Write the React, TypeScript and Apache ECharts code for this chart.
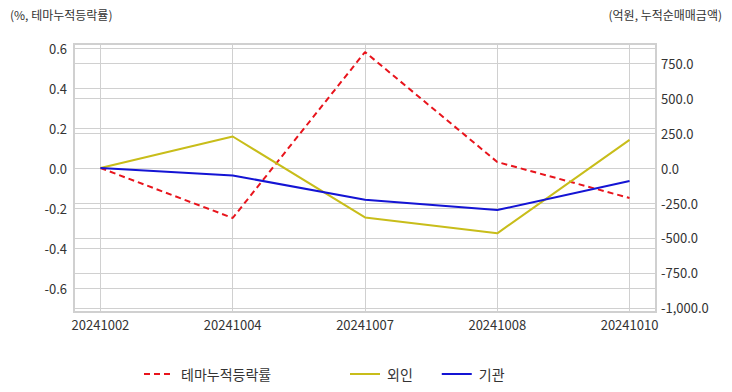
import React, { useEffect, useRef } from "react";
import * as echarts from "echarts";

const categories = ["20241002", "20241004", "20241007", "20241008", "20241010"];
const themeReturn = [0, -0.25, 0.58, 0.03, -0.15];
const foreignNet = [0, 226, -353, -467, 202];
const institutionNet = [0, -53, -226, -300, -93];
const leftTitle = "(%, 테마누적등락률)";
const rightTitle = "(억원, 누적순매매금액)";

const FONT = "'Noto Sans CJK KR', 'Noto Sans', sans-serif";

export default function App() {
  const ref = useRef<HTMLDivElement>(null);
  useEffect(() => {
    document.body.style.margin = "0";
    const chart = echarts.init(ref.current!, null, { renderer: "svg" });
    const toPts = (arr: number[]) => arr.map((v, i) => [i, v]);
    const legendCommon = {
      top: 362,
      itemWidth: 30,
      itemHeight: 14,
      itemStyle: { opacity: 0 },
      textStyle: { fontSize: 14, color: "#333", fontFamily: FONT, padding: [0, 0, 0, 2] },
    };
    chart.setOption({
      animation: false,
      textStyle: { fontFamily: FONT },
      grid: {
        left: 74,
        right: 76,
        top: 44,
        bottom: 80,
        show: true,
        borderColor: "#d0d0d0",
        borderWidth: 2,
      },
      graphic: [
        {
          type: "text",
          left: 10,
          top: 8,
          style: { text: leftTitle, fill: "#333", font: `12px ${FONT}` },
        },
        {
          type: "text",
          right: 10,
          top: 8,
          style: { text: rightTitle, fill: "#333", font: `12px ${FONT}` },
        },
      ],
      legend: [
        { ...legendCommon, data: ["테마누적등락률"], left: 138 },
        { ...legendCommon, data: ["외인", "기관"], left: 344, itemGap: 28 },
      ],
      xAxis: {
        type: "value",
        min: -0.2,
        max: 4.2,
        minInterval: 1,
        maxInterval: 1,
        axisLine: { show: false },
        axisTick: { show: false },
        splitLine: { show: true, lineStyle: { color: "#d0d0d0" } },
        axisLabel: {
          showMinLabel: false,
          showMaxLabel: false,
          margin: 6,
          fontSize: 13,
          color: "#333",
          formatter: (v: number) => (Number.isInteger(v) ? categories[v] ?? "" : ""),
        },
      },
      yAxis: [
        {
          type: "value",
          min: -0.72,
          max: 0.62,
          minInterval: 0.2,
          maxInterval: 0.2,
          axisLine: { show: false },
          axisTick: { show: false },
          splitLine: { show: true, lineStyle: { color: "#d0d0d0" } },
          axisLabel: {
            showMinLabel: false,
            showMaxLabel: false,
            margin: 7,
            fontSize: 13,
            color: "#333",
            formatter: (v: number) => v.toFixed(1),
          },
        },
        {
          type: "value",
          min: -1030,
          max: 888,
          minInterval: 250,
          maxInterval: 250,
          position: "right",
          axisLine: { show: false },
          axisTick: { show: false },
          splitLine: { show: true, lineStyle: { color: "#d0d0d0" } },
          axisLabel: {
            showMinLabel: false,
            showMaxLabel: false,
            margin: 5,
            fontSize: 13,
            color: "#333",
            formatter: (v: number) =>
              v.toLocaleString("en-US", { minimumFractionDigits: 1, maximumFractionDigits: 1 }),
          },
        },
      ],
      series: [
        {
          name: "테마누적등락률",
          type: "line",
          yAxisIndex: 0,
          data: toPts(themeReturn),
          symbol: "none",
          itemStyle: { color: "#e8141c" },
          lineStyle: { color: "#e8141c", width: 2, type: [6, 4] },
        },
        {
          name: "외인",
          type: "line",
          yAxisIndex: 1,
          data: toPts(foreignNet),
          symbol: "none",
          itemStyle: { color: "#c8bd1a" },
          lineStyle: { color: "#c8bd1a", width: 2 },
        },
        {
          name: "기관",
          type: "line",
          yAxisIndex: 1,
          data: toPts(institutionNet),
          symbol: "none",
          itemStyle: { color: "#1414d4" },
          lineStyle: { color: "#1414d4", width: 2 },
        },
      ],
    });
    return () => chart.dispose();
  }, []);
  return <div ref={ref} style={{ width: 732, height: 392 }} />;
}
